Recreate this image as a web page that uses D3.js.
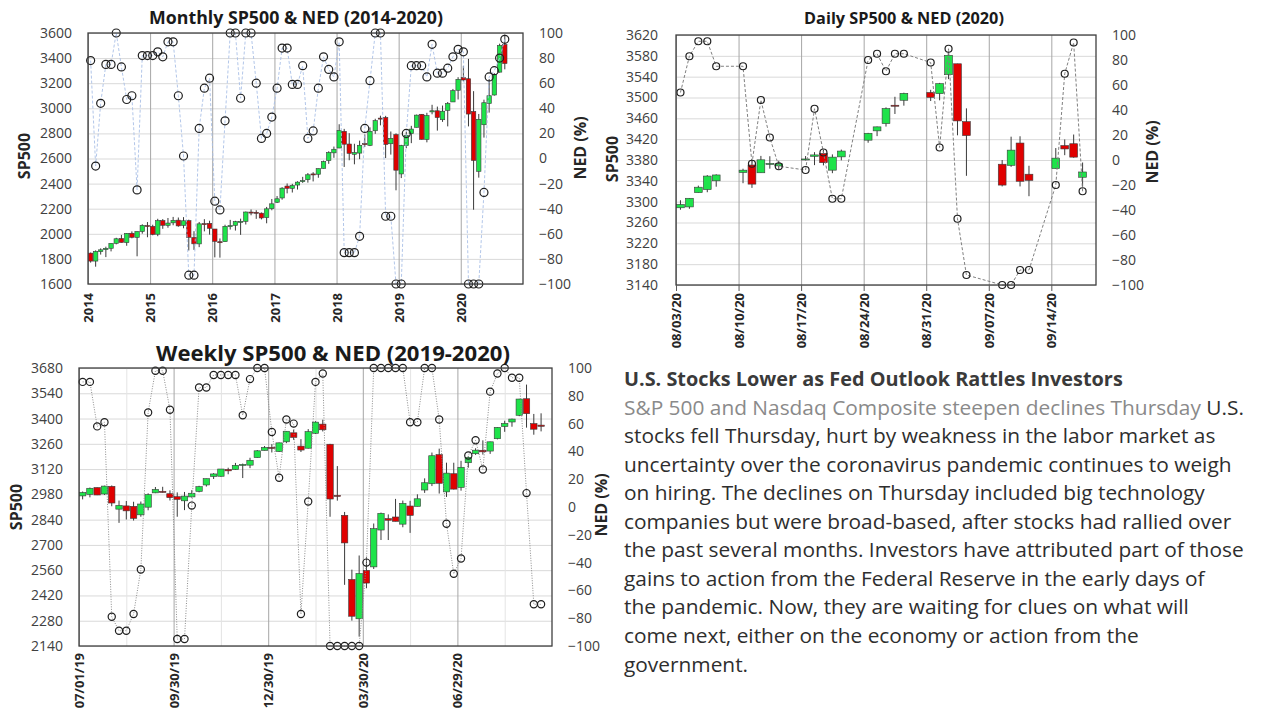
<!DOCTYPE html>
<html><head><meta charset="utf-8">
<script src="https://cdn.jsdelivr.net/npm/d3@7"></script>
<style>body{margin:0;background:#fff;}svg{display:block;}</style>
</head><body>
<svg id="c" width="1280" height="720"></svg>
<script>
// ---------------- DATA ----------------
// Monthly SP500 OHLC, Jan 2014 .. Sep 2020
const monthlyStart = "2014-01";
const monthlyOHLC = [
[1845.86,1850.84,1770.45,1782.59],[1782.68,1867.92,1737.92,1859.45],[1857.68,1883.97,1834.44,1872.34],[1873.96,1897.28,1814.36,1883.95],
[1884.66,1924.03,1859.79,1923.57],[1923.87,1968.17,1915.98,1960.23],[1962.29,1991.39,1930.67,1930.67],[1929.80,2005.04,1904.78,2003.37],
[2004.07,2019.26,1964.04,1972.29],[1971.44,2018.19,1820.66,2018.05],[2018.21,2075.76,2001.01,2067.56],[2065.78,2093.55,1972.56,2058.90],
[2058.90,2072.36,1988.12,1994.99],[1996.67,2119.59,1980.90,2104.50],[2105.23,2117.52,2039.69,2067.89],[2067.63,2125.92,2048.38,2085.51],
[2087.38,2134.72,2067.93,2107.39],[2108.64,2129.87,2056.32,2063.11],[2067.00,2132.82,2044.02,2103.84],[2104.49,2112.66,1867.01,1972.18],
[1970.09,2020.86,1871.91,1920.03],[1919.65,2094.32,1893.70,2079.36],[2080.76,2116.48,2019.39,2080.41],[2082.93,2104.27,1993.26,2043.94],
[2038.20,2038.20,1812.29,1940.24],[1936.94,1962.96,1810.10,1932.23],[1937.09,2072.21,1937.09,2059.74],[2056.62,2111.05,2033.80,2065.30],
[2067.17,2103.48,2025.91,2096.95],[2093.94,2120.55,1991.68,2098.86],[2099.34,2177.09,2074.02,2173.60],[2173.15,2193.81,2147.58,2170.95],
[2171.33,2187.87,2119.12,2168.27],[2164.33,2169.60,2114.72,2126.15],[2128.68,2214.10,2083.79,2198.81],[2200.17,2277.53,2187.44,2238.83],
[2251.57,2300.99,2245.13,2278.87],[2285.59,2371.54,2271.65,2363.64],[2380.13,2400.98,2322.25,2362.72],[2362.34,2398.16,2328.95,2384.20],
[2388.50,2418.71,2352.72,2411.80],[2415.65,2453.82,2405.70,2423.41],[2431.39,2484.04,2407.70,2470.30],[2477.10,2490.87,2417.35,2471.65],
[2474.42,2519.44,2446.55,2519.36],[2521.20,2582.98,2520.40,2575.26],[2583.21,2657.74,2557.45,2647.58],[2645.10,2694.97,2605.52,2673.61],
[2683.73,2872.87,2682.36,2823.81],[2816.45,2835.96,2532.69,2713.83],[2715.22,2801.90,2585.89,2640.87],[2633.45,2717.49,2553.80,2648.05],
[2642.96,2742.24,2594.62,2705.27],[2718.70,2791.47,2691.99,2718.37],[2704.95,2848.03,2698.95,2816.29],[2821.17,2916.50,2796.34,2901.52],
[2921.83,2940.91,2864.12,2913.98],[2926.29,2939.86,2603.54,2711.74],[2717.58,2815.15,2631.09,2760.17],[2790.50,2800.18,2346.58,2506.85],
[2476.96,2708.95,2443.96,2704.10],[2702.32,2813.49,2681.83,2784.49],[2798.22,2860.31,2722.27,2834.40],[2848.63,2949.52,2848.63,2945.83],
[2952.33,2954.13,2750.52,2752.06],[2751.53,2964.15,2728.81,2941.76],[2971.41,3027.98,2952.22,2980.38],[2980.32,3013.59,2822.12,2926.46],
[2909.01,3021.99,2891.85,2976.74],[2983.69,3050.10,2855.94,3037.56],[3050.72,3154.26,3050.72,3140.98],[3143.85,3247.93,3070.33,3230.78],
[3244.67,3337.77,3214.64,3225.52],[3235.66,3393.52,2855.84,2954.22],[2974.28,3136.72,2191.86,2584.59],[2498.08,2954.86,2447.49,2912.43],
[2869.09,3068.67,2766.64,3044.31],[3038.78,3233.13,2965.66,3100.29],[3105.92,3279.99,3101.17,3271.12],[3288.26,3514.77,3284.53,3500.31],
[3507.44,3588.11,3310.47,3357.01]
];
const monthlyNED = [
78,-6,44,75,75,100,73,47,50,-25,82,82,
82,85,81,93,93,50,2,-93,-93,24,56,64,
-34,-41,30,100,100,48,100,100,60,16,20,33,
56,88,88,59,59,74,16,22,56,81,71,65,
93,-75,-75,-75,-62,24,62,100,100,-46,-46,-100,
-100,20,74,74,74,65,91,68,68,72,81,87,
85,-100,-100,-100,-27,65,70,80,95
];
const monthlyYTicks = [1600,1800,2000,2200,2400,2600,2800,3000,3200,3400,3600];
const monthlyXTicks = ["2014","2015","2016","2017","2018","2019","2020"];

// Daily SP500 OHLC, Aug 3 .. Sep 17 2020
const dailyDates = ["08/03/20","08/04/20","08/05/20","08/06/20","08/07/20","08/10/20","08/11/20","08/12/20","08/13/20","08/14/20",
"08/17/20","08/18/20","08/19/20","08/20/20","08/21/20","08/24/20","08/25/20","08/26/20","08/27/20","08/28/20",
"08/31/20","09/01/20","09/02/20","09/03/20","09/04/20","09/08/20","09/09/20","09/10/20","09/11/20","09/14/20",
"09/15/20","09/16/20","09/17/20"];
const dailyOHLC = [
[3288.26,3302.73,3284.53,3294.61],[3289.92,3306.84,3286.37,3306.51],[3317.37,3330.77,3317.37,3327.77],[3323.17,3351.03,3318.14,3349.16],
[3340.05,3352.54,3328.72,3351.28],[3356.04,3363.29,3335.44,3360.47],[3370.34,3381.01,3326.44,3333.69],[3355.46,3387.89,3355.46,3380.35],
[3372.95,3387.24,3363.35,3373.43],[3368.66,3378.51,3361.64,3372.85],[3380.86,3387.59,3379.22,3381.99],[3387.04,3395.06,3370.15,3389.78],
[3392.51,3399.54,3369.66,3374.85],[3360.48,3390.80,3354.69,3385.51],[3386.01,3399.96,3379.31,3397.16],[3418.09,3432.09,3413.13,3431.28],
[3435.95,3444.21,3425.84,3443.62],[3449.97,3481.07,3444.15,3478.73],[3485.14,3501.38,3468.35,3484.55],[3494.69,3509.23,3484.32,3508.01],
[3509.73,3514.77,3493.25,3500.31],[3507.44,3528.03,3494.60,3526.65],[3543.76,3588.11,3535.23,3580.84],[3564.74,3564.85,3427.41,3455.06],
[3453.60,3479.15,3349.63,3426.96],[3371.88,3379.97,3329.27,3331.84],[3369.82,3424.77,3366.84,3398.96],[3412.56,3425.55,3329.25,3339.19],
[3352.70,3368.95,3310.47,3340.97],[3363.56,3402.93,3363.56,3383.54],[3407.73,3419.48,3389.25,3401.20],[3411.23,3428.92,3384.45,3385.49],
[3346.86,3375.17,3328.82,3357.01]
];
const dailyNED = [54,83,95,95,75,75,-3,48,18,-5,-8,41,6,-31,-31,80,85,71,85,85,78,10,89,-47,-92,-100,-100,-88,-88,-20,69,94,-25];
const dailyYTicks = [3140,3180,3220,3260,3300,3340,3380,3420,3460,3500,3540,3580,3620];
const dailyXTicks = ["08/03/20","08/10/20","08/17/20","08/24/20","08/31/20","09/07/20","09/14/20"];

// Weekly SP500 OHLC, week of Jul 1 2019 .. week of Sep 14 2020
const weeklyStart = "07/01/19";
const weeklyOHLC = [
[2971.41,2995.84,2952.22,2990.41],[2979.77,3017.80,2963.44,3013.77],[3017.80,3017.80,2975.90,2976.61],[2981.93,3027.98,2976.90,3025.86],
[3024.47,3029.37,2914.11,2932.05],[2898.07,2945.50,2822.12,2918.65],[2916.04,2943.31,2840.60,2888.68],[2913.48,2939.08,2834.97,2847.11],
[2866.70,2940.43,2856.00,2926.46],[2909.01,2985.86,2891.85,2978.71],[2988.43,3020.74,2986.60,3007.39],[2996.41,3022.00,2990.00,2992.07],
[2983.50,3002.40,2946.00,2961.79],[2967.07,2991.00,2855.94,2952.01],[2944.23,2993.28,2892.66,2970.27],[2965.81,3003.28,2962.00,2986.20],
[2996.48,3027.39,2991.30,3022.55],[3032.12,3066.95,3023.19,3066.91],[3078.96,3097.77,3065.17,3093.08],[3080.33,3120.46,3077.82,3120.46],
[3117.91,3127.64,3091.41,3110.29],[3117.44,3154.26,3115.64,3140.98],[3143.85,3150.60,3070.33,3145.91],[3141.86,3182.68,3125.20,3168.80],
[3183.63,3225.65,3182.68,3221.22],[3223.33,3247.93,3223.33,3240.02],[3240.09,3258.14,3212.03,3234.85],[3217.55,3267.07,3214.64,3265.35],
[3271.13,3329.88,3263.51,3329.62],[3321.03,3337.77,3281.53,3295.47],[3247.16,3285.91,3214.64,3225.52],[3235.66,3341.42,3234.00,3327.71],
[3318.28,3385.09,3315.19,3380.16],[3369.04,3393.52,3328.45,3337.75],[3257.61,3259.81,2855.84,2954.22],[2974.28,3136.72,2945.19,2972.37],
[2863.89,2882.59,2478.86,2711.02],[2508.59,2562.98,2280.52,2304.92],[2290.71,2641.39,2191.86,2541.47],[2558.98,2631.80,2459.96,2488.65],
[2578.28,2818.57,2566.70,2789.82],[2782.46,2879.22,2727.10,2874.56],[2845.62,2868.98,2727.10,2836.74],[2854.65,2954.86,2830.71,2830.71],
[2815.01,2945.70,2797.85,2929.80],[2915.46,2944.25,2766.64,2863.70],[2913.86,2980.29,2913.86,2955.45],[3004.08,3068.67,2988.17,3044.31],
[3038.78,3211.72,3025.84,3193.93],[3199.92,3233.13,2984.47,3041.31],[2993.76,3155.53,2965.66,3097.74],[3094.42,3155.29,3007.00,3009.05],
[3018.59,3165.81,3000.41,3130.01],[3155.29,3190.00,3127.66,3185.04],[3205.08,3235.32,3198.59,3224.73],[3224.29,3279.32,3200.05,3215.63],
[3219.84,3272.17,3204.13,3271.12],[3288.26,3352.54,3284.53,3351.28],[3356.04,3387.89,3326.44,3372.85],[3380.86,3399.54,3354.69,3397.16],
[3418.09,3509.23,3413.13,3508.01],[3509.73,3588.11,3349.63,3426.96],[3371.88,3425.55,3310.47,3340.97],[3363.56,3428.92,3328.82,3357.01]
];
const weeklyNED = [90,90,58,61,-79,-89,-89,-77,-45,68,98,98,70,-95,-95,1,86,86,95,95,95,95,66,92,100,100,54,21,63,60,
-77,4,90,96,-100,-100,-100,-100,-100,-40,100,100,100,100,100,61,61,100,100,63,-12,-48,-37,37,48,27,83,96,100,93,93,10,-70,-70];
const weeklyYTicks = [2140,2280,2420,2560,2700,2840,2980,3120,3260,3400,3540,3680];
const weeklyXTicks = ["07/01/19","09/30/19","12/30/19","03/30/20","06/29/20"];

const nedTicks = [-100,-80,-60,-40,-20,0,20,40,60,80,100];

const newsTitle = "U.S. Stocks Lower as Fed Outlook Rattles Investors";
const newsSub = "S&P 500 and Nasdaq Composite steepen declines Thursday";
const newsSubTail = " U.S.";
const newsBody = [
"stocks fell Thursday, hurt by weakness in the labor market as",
"uncertainty over the coronavirus pandemic continues to weigh",
"on hiring. The declines on Thursday included big technology",
"companies but were broad-based, after stocks had rallied over",
"the past several months. Investors have attributed part of those",
"gains to action from the Federal Reserve in the early days of",
"the pandemic. Now, they are waiting for clues on what will",
"come next, either on the economy or action from the",
"government."
];

// ---------------- DRAWING ----------------
const svg = d3.select('#c');
const FONT = "'Open Sans', 'Noto Sans', sans-serif";
const UP = '#1EE34A', DOWN = '#E00000', EDGE = '#3a3a3a';
const pm = d3.timeParse('%m/%d/%y');

function fit(sel, target) {
  const w = sel.node().getComputedTextLength();
  const fs = parseFloat(sel.attr('font-size'));
  sel.attr('font-size', fs * target / w);
}

function drawChart(o) {
  const g = svg.append('g');
  const x = d3.scaleTime().domain(o.xDomain).range([o.l, o.r]);
  const y = d3.scaleLinear().domain(o.yDomain).range([o.b, o.t]);
  const yn = d3.scaleLinear().domain([-100, 100]).range([o.b, o.t]);

  // horizontal grid
  g.append('g').attr('transform', `translate(${o.l},0)`)
    .call(d3.axisLeft(y).tickValues(o.yTicks).tickSize(-(o.r - o.l)).tickFormat(''))
    .call(a => { a.select('.domain').remove(); a.selectAll('line').attr('stroke', '#d9d9d9'); });
  if (o.xMinor) {
    g.append('g').attr('transform', `translate(0,${o.t})`)
      .call(d3.axisBottom(x).tickValues(o.xMinor).tickSize(o.b - o.t).tickFormat(''))
      .call(a => { a.select('.domain').remove(); a.selectAll('line').attr('stroke', '#e4e4e4'); });
  }
  g.append('g').attr('transform', `translate(0,${o.t})`)
    .call(d3.axisBottom(x).tickValues(o.xTicks).tickSize(o.b - o.t).tickFormat(''))
    .call(a => { a.select('.domain').remove(); a.selectAll('line').attr('stroke', '#a6a6a6'); });

  // candles
  const data = o.ohlc.map((v, i) => ({ t: o.dates[i], o: v[0], h: v[1], l: v[2], c: v[3] }));
  const cg = g.append('g');
  cg.selectAll('line').data(data).join('line')
    .attr('x1', d => x(d.t)).attr('x2', d => x(d.t))
    .attr('y1', d => y(d.h)).attr('y2', d => y(d.l))
    .attr('stroke', EDGE).attr('stroke-width', 1);
  cg.selectAll('rect').data(data).join('rect')
    .attr('x', d => x(d.t) - o.cw / 2).attr('width', o.cw)
    .attr('y', d => y(Math.max(d.o, d.c)))
    .attr('height', d => Math.max(1, Math.abs(y(d.o) - y(d.c))))
    .attr('fill', d => d.c >= d.o ? UP : DOWN)
    .attr('stroke', EDGE).attr('stroke-width', 0.6);

  // NED
  const nd = o.ned.map((v, i) => ({ t: o.dates[i], v }));
  g.append('path').datum(nd)
    .attr('d', d3.line().x(d => x(d.t)).y(d => yn(d.v)))
    .attr('fill', 'none').attr('stroke', o.nedColor).attr('stroke-width', o.nedW)
    .attr('stroke-dasharray', o.nedDash);
  g.append('g').selectAll('circle').data(nd).join('circle')
    .attr('cx', d => x(d.t)).attr('cy', d => yn(d.v)).attr('r', o.cr)
    .attr('fill', 'none').attr('stroke', '#1f1f1f').attr('stroke-width', 1.2);

  // border
  g.append('rect').attr('x', o.l).attr('y', o.t).attr('width', o.r - o.l).attr('height', o.b - o.t)
    .attr('fill', 'none').attr('stroke', '#404040').attr('stroke-width', 1.3);

  // left axis
  g.append('g').attr('transform', `translate(${o.l},0)`)
    .call(d3.axisLeft(y).tickValues(o.yTicks).tickSize(0).tickPadding(o.padL).tickFormat(d3.format('d')))
    .call(a => { a.select('.domain').remove();
      a.selectAll('text').attr('font-family', FONT).attr('font-size', 14).attr('fill', '#404040'); });
  // right axis
  g.append('g').attr('transform', `translate(${o.r},0)`)
    .call(d3.axisRight(yn).tickValues(nedTicks).tickSize(0).tickPadding(o.padR).tickFormat(d3.format('d')))
    .call(a => { a.select('.domain').remove();
      a.selectAll('text').attr('font-family', FONT).attr('font-size', 14).attr('fill', '#404040'); });
  // x axis
  g.append('g').attr('transform', `translate(0,${o.b})`)
    .call(d3.axisBottom(x).tickValues(o.xTicks).tickSize(o.tickOut).tickFormat(o.xFmt))
    .call(a => { a.select('.domain').remove(); a.selectAll('line').attr('stroke', '#595959');
      a.selectAll('text').attr('transform', 'rotate(-90)').attr('x', -o.xGap).attr('y', 0)
        .attr('dy', '0.35em').attr('text-anchor', 'end').attr('font-weight', 'bold')
        .attr('font-family', FONT).attr('font-size', 13).attr('fill', '#262626'); });

  // axis titles
  g.append('text').attr('transform', `translate(${o.ylab[0]},${o.ylab[1]}) rotate(-90)`)
    .attr('text-anchor', 'middle').attr('dominant-baseline', 'central')
    .attr('font-family', FONT).attr('font-weight', 'bold').attr('font-size', 16).attr('fill', '#262626')
    .text('SP500');
  g.append('text').attr('transform', `translate(${o.nlab[0]},${o.nlab[1]}) rotate(-90)`)
    .attr('text-anchor', 'middle').attr('dominant-baseline', 'central')
    .attr('font-family', FONT).attr('font-weight', 'bold').attr('font-size', 16).attr('fill', '#262626')
    .text('NED (%)');
  // title
  const tt = g.append('text').attr('x', o.title[1]).attr('y', o.title[2]).attr('text-anchor', 'middle')
    .attr('font-family', FONT).attr('font-weight', 'bold').attr('font-size', 18).attr('fill', '#1a1a1a')
    .text(o.title[0]);
  fit(tt, o.title[3]);
}

// Monthly
const mStart = d3.timeParse('%Y-%m')(monthlyStart);
const monthlyDates = monthlyOHLC.map((_, i) => {
  const a = d3.timeMonth.offset(mStart, i), b = d3.timeMonth.offset(mStart, i + 1);
  return new Date((a.getTime() + b.getTime()) / 2);
});
drawChart({
  l: 88, r: 523, t: 33, b: 284,
  xDomain: [mStart, d3.timeYear.offset(d3.timeParse('%Y')(monthlyXTicks[monthlyXTicks.length - 1]), 1)],
  yDomain: [1600, 3600], yTicks: monthlyYTicks,
  xTicks: monthlyXTicks.map(d3.timeParse('%Y')), xFmt: d3.timeFormat('%Y'),
  dates: monthlyDates, ohlc: monthlyOHLC, ned: monthlyNED, cw: 4.4, cr: 4,
  nedColor: '#a9bfe6', nedDash: '3,2', nedW: 0.9,
  padL: 16, padR: 16, tickOut: 0, xGap: 9,
  ylab: [24, 156], nlab: [580, 148],
  title: ['Monthly SP500 & NED (2014-2020)', 296, 24, 294]
});

// Daily
const dDates = dailyDates.map(pm);
drawChart({
  l: 676, r: 1096, t: 35, b: 285,
  xDomain: [pm(dailyXTicks[0]), d3.timeDay.offset(pm(dailyXTicks[dailyXTicks.length - 1]), 5)],
  yDomain: [3140, 3620], yTicks: dailyYTicks,
  xTicks: dailyXTicks.map(pm), xFmt: d3.timeFormat('%m/%d/%y'),
  dates: dDates.map(d => d3.timeHour.offset(d, 12)), ohlc: dailyOHLC, ned: dailyNED, cw: 7.8, cr: 3.5,
  nedColor: '#808080', nedDash: '3,2', nedW: 1,
  padL: 18, padR: 16, tickOut: 6, xGap: 8,
  ylab: [612, 159], nlab: [1152, 152],
  title: ['Daily SP500 & NED (2020)', 904, 24, 200]
});

// Weekly
const wStart = pm(weeklyStart);
const wTicks = weeklyXTicks.map(pm);
drawChart({
  l: 79, r: 552, t: 368, b: 646,
  xDomain: [wStart, d3.timeDay.offset(wTicks[wTicks.length - 1], 91)],
  yDomain: [2140, 3680], yTicks: weeklyYTicks,
  xTicks: wTicks, xMinor: wTicks.map(d => d3.timeHour.offset(d, 45.5 * 24)), xFmt: d3.timeFormat('%m/%d/%y'),
  dates: weeklyOHLC.map((_, i) => d3.timeHour.offset(d3.timeDay.offset(wStart, 7 * i), 84)),
  ohlc: weeklyOHLC, ned: weeklyNED, cw: 6.4, cr: 3.6,
  nedColor: '#8c8c8c', nedDash: '1,1.5', nedW: 1,
  padL: 16, padR: 16, tickOut: 0, xGap: 7,
  ylab: [16, 507], nlab: [601, 505],
  title: ['Weekly SP500 & NED (2019-2020)', 333, 361, 354]
});

// News text block
const tx = 624, ty0 = 386, lh = 28.55;
const tg = svg.append('g').attr('font-family', FONT);
const t1 = tg.append('text').attr('x', tx).attr('y', ty0).attr('font-weight', 'bold')
  .attr('font-size', 18).attr('fill', '#3a3a3a').text(newsTitle);
fit(t1, 499);
const probe = tg.append('text').attr('x', tx).attr('y', -100).attr('font-size', 18).text(newsBody[4]);
fit(probe, 620);
const bfs = parseFloat(probe.attr('font-size'));
probe.remove();
const t2 = tg.append('text').attr('x', tx).attr('y', ty0 + lh).attr('font-size', bfs);
t2.append('tspan').attr('fill', '#8a8a8a').text(newsSub);
t2.append('tspan').attr('fill', '#2e2e2e').text(newsSubTail);
tg.selectAll('text.body').data(newsBody).join('text').attr('class', 'body')
  .attr('x', tx).attr('y', (d, i) => ty0 + lh * (i + 2)).attr('font-size', bfs).attr('fill', '#2e2e2e')
  .text(d => d);
</script>
</body></html>
